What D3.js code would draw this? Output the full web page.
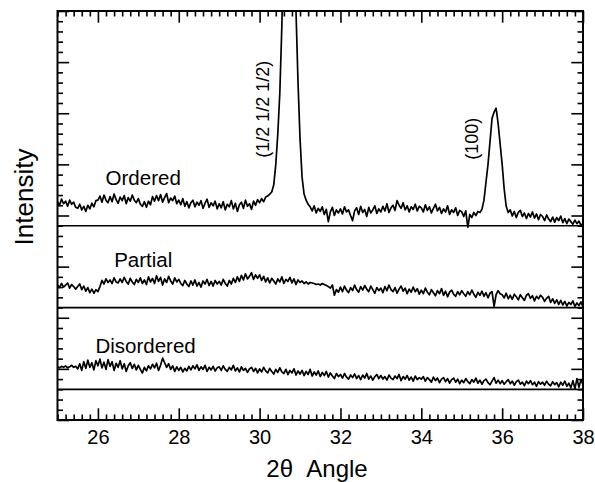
<!DOCTYPE html>
<html>
<head>
<meta charset="utf-8">
<script src="https://cdn.jsdelivr.net/npm/d3@7"></script>
<style>
  html, body { margin: 0; padding: 0; background: #fff; }
  svg { display: block; }
  text { font-family: "Liberation Sans", Arial, Helvetica, sans-serif; fill: #000; }
</style>
</head>
<body>
<svg id="chart" width="595" height="482"></svg>
<script>
// ---------------- DATA ----------------
const xStart = 25;
const xStep = 0.05;
const xTickLabels = [26, 28, 30, 32, 34, 36, 38];
const seriesNames = ["Ordered", "Partial", "Disordered"];
const seriesOffsets = [3.8, 2.2, 0.6];
const peakLabels = ["(1/2 1/2 1/2)", "(100)"];
const peakLabelX = [30.235, 35.41];
const peakLabelY = [6.08, 5.5];

const orderedValues = [
  0.47,0.40,0.52,0.43,0.48,0.38,0.50,0.42,0.46,0.36, 0.34,0.42,0.31,0.38,0.28,0.40,0.33,0.44,0.37,0.49,
  0.50,0.58,0.46,0.60,0.50,0.45,0.57,0.47,0.62,0.51, 0.44,0.56,0.49,0.59,0.43,0.55,0.48,0.60,0.50,0.45,
  0.53,0.42,0.38,0.47,0.36,0.48,0.41,0.57,0.48,0.59, 0.49,0.61,0.46,0.55,0.63,0.45,0.54,0.49,0.58,0.43,
  0.50,0.41,0.53,0.38,0.47,0.35,0.45,0.50,0.37,0.46, 0.40,0.49,0.34,0.44,0.52,0.36,0.45,0.39,0.48,0.33,
  0.43,0.35,0.47,0.31,0.42,0.37,0.49,0.33,0.44,0.28, 0.41,0.46,0.34,0.50,0.38,0.43,0.32,0.48,0.40,0.51,
  0.45,0.53,0.47,0.56,0.58,0.62,
  0.66,0.80,1.20,1.80,2.60,3.90,5.80,8.00,9.50,9.50,8.00,6.00,4.20,2.80,1.70,0.95,0.62,0.50,0.42,
  0.37,0.29,0.39,0.25,0.34,0.28,0.37,0.22,0.32,0.08, 0.27,0.36,0.20,0.31,0.25,
  0.33,0.23,0.37,0.27,0.31,0.20,0.10,0.29,0.35,0.22, 0.38,0.26,0.32,0.18,0.36,0.25,0.31,0.39,0.24,0.33,
  0.27,0.38,0.29,0.43,0.26,0.35,0.40,0.30,0.49,0.40, 0.34,0.45,0.31,0.39,0.27,0.37,0.32,0.42,0.29,0.38,
  0.35,0.27,0.41,0.30,0.37,0.25,0.34,0.42,0.29,0.36, 0.24,0.33,0.27,0.39,0.22,0.31,0.26,0.35,0.20,0.30,
  0.27,0.18,0.29,-0.03,0.22,0.16,0.26,0.20,0.28,
  0.26,0.32,0.50,0.85,1.20,1.65,2.10,2.22,2.30,2.00,1.60,1.20,0.72,0.38,0.26,
  0.31,0.19,0.28,0.16,0.26,0.30,0.18,0.25,0.14,0.24, 0.17,0.27,0.15,0.23,0.12,0.22,
  0.18,0.10,0.21,0.13,0.08,0.17,0.07,0.16,0.10,0.19, 0.06,0.14,0.04,0.13,0.08,0.03,0.11,0.04,0.09,0.01,0.04
];

const partialValues = [
  0.44,0.39,0.47,0.40,0.44,0.48,0.38,0.45,0.41,0.36, 0.41,0.46,0.35,0.42,0.32,0.39,0.29,0.36,0.28,0.35,
  0.31,0.41,0.53,0.46,0.56,0.49,0.54,0.47,0.58,0.50, 0.48,0.56,0.49,0.59,0.51,0.46,0.57,0.50,0.45,0.55,
  0.49,0.58,0.47,0.54,0.45,0.60,0.50,0.57,0.47,0.62, 0.51,0.59,0.44,0.56,0.49,0.61,0.52,0.46,0.58,0.50,
  0.55,0.47,0.43,0.53,0.46,0.41,0.52,0.44,0.54,0.42, 0.49,0.40,0.52,0.46,0.55,0.43,0.51,0.42,0.53,0.46,
  0.51,0.44,0.55,0.47,0.42,0.53,0.46,0.57,0.49,0.60, 0.51,0.63,0.54,0.66,0.56,0.61,0.68,0.55,0.64,0.57,
  0.64,0.53,0.61,0.50,0.58,0.48,0.57,0.52,0.46,0.56, 0.50,0.60,0.47,0.55,0.51,0.59,0.48,0.56,0.45,0.54,
  0.49,0.52,0.47,0.50,0.46,0.49,0.48,0.47,0.45,0.46, 0.44,0.47,0.45,0.43,0.41,0.38,0.44,0.24,0.35,0.30,
  0.40,0.31,0.42,0.34,0.29,0.39,0.33,0.44,0.35,0.30, 0.41,0.34,0.43,0.36,0.31,0.42,0.35,0.28,0.39,0.33,
  0.38,0.29,0.41,0.33,0.44,0.35,0.31,0.39,0.28,0.36, 0.42,0.32,0.38,0.27,0.36,0.30,0.40,0.31,0.37,0.26,
  0.34,0.27,0.38,0.30,0.25,0.35,0.29,0.23,0.33,0.27, 0.37,0.24,0.32,0.21,0.30,0.34,0.26,0.22,0.31,0.25,
  0.33,0.27,0.22,0.31,0.25,0.34,0.26,0.20,0.30,0.24, 0.32,0.22,0.29,0.19,0.28,0.31,0.02,0.25,0.33,0.27,
  0.25,0.19,0.28,0.17,0.24,0.16,0.26,0.21,0.15,0.25, 0.19,0.14,0.24,0.27,0.18,0.23,0.13,0.22,0.17,0.24,
  0.20,0.12,0.18,0.22,0.10,0.17,0.08,0.15,0.06,0.14, 0.05,0.12,0.03,0.10,0.06,0.13,0.02,0.09,0.04,0.11,0.01
];

const disorderedValues = [
  0.44,0.42,0.45,0.43,0.46,0.42,0.44,0.47,0.43,0.45, 0.40,0.50,0.37,0.54,0.41,0.57,0.43,0.52,0.38,0.56,
  0.46,0.59,0.42,0.53,0.39,0.58,0.45,0.54,0.37,0.51, 0.43,0.56,0.40,0.50,0.35,0.46,0.52,0.41,0.49,0.38,
  0.47,0.39,0.32,0.43,0.36,0.46,0.40,0.49,0.42,0.51, 0.37,0.47,0.61,0.52,0.43,0.50,0.39,0.46,0.35,0.44,
  0.37,0.43,0.34,0.41,0.36,0.45,0.38,0.46,0.40,0.48, 0.37,0.44,0.39,0.47,0.35,0.43,0.38,0.45,0.36,0.42,
  0.44,0.37,0.46,0.39,0.35,0.43,0.38,0.47,0.36,0.42, 0.34,0.44,0.37,0.41,0.33,0.40,0.43,0.35,0.41,0.32,
  0.40,0.34,0.43,0.36,0.32,0.41,0.35,0.30,0.39,0.33, 0.42,0.34,0.31,0.39,0.29,0.37,0.32,0.40,0.28,0.36,
  0.30,0.37,0.27,0.35,0.29,0.39,0.26,0.34,0.28,0.36, 0.25,0.33,0.27,0.35,0.24,0.32,0.26,0.21,0.31,0.25,
  0.29,0.22,0.31,0.24,0.20,0.28,0.23,0.30,0.21,0.27, 0.19,0.28,0.22,0.31,0.20,0.26,0.18,0.25,0.29,0.21,
  0.27,0.20,0.25,0.18,0.28,0.22,0.19,0.26,0.21,0.29, 0.17,0.25,0.20,0.27,0.18,0.24,0.16,0.26,0.19,0.23,
  0.20,0.25,0.16,0.23,0.19,0.14,0.24,0.17,0.22,0.13, 0.20,0.23,0.15,0.21,0.12,0.19,0.22,0.14,0.20,0.11,
  0.18,0.13,0.21,0.15,0.11,0.19,0.14,0.22,0.12,0.18, 0.10,0.17,0.20,0.13,0.09,0.16,0.23,0.12,0.18,0.11,
  0.17,0.10,0.15,0.19,0.11,0.16,0.08,0.15,0.18,0.10, 0.14,0.07,0.16,0.11,0.17,0.09,0.14,0.06,0.15,0.10,
  0.14,0.08,0.16,0.10,0.07,0.15,0.09,0.13,0.05,0.14, 0.08,0.16,0.06,0.12,0.03,0.17,0.01,0.21,0.04,0.19,0.09
];

const seriesValues = [orderedValues, partialValues, disorderedValues];

// ---------------- CHART ----------------
const svg = d3.select("#chart");
const L = 57.5, R = 583, T = 11, B = 420;
const x = d3.scaleLinear().domain([25, 38]).range([L, R]);
const y = d3.scaleLinear().domain([0, 8]).range([B, T]);

const majorX = xTickLabels;
const minorX = d3.range(0, 66).map(i => 25 + i * 0.2).filter(v => Math.abs(v / 2 - Math.round(v / 2)) > 0.01);
const majorY = d3.range(0, 9);
const minorY = d3.range(0, 41).map(i => i * 0.2).filter(v => Math.abs(v - Math.round(v)) > 0.01);

function styleAxis(g) {
  g.select(".domain").remove();
  g.selectAll("line").attr("stroke", "#000").attr("stroke-width", 1.6);
}

svg.append("defs").append("clipPath").attr("id", "plotclip")
  .append("rect").attr("x", L).attr("y", T).attr("width", R - L).attr("height", B - T);

// bottom axis
svg.append("g").attr("transform", `translate(0,${B})`)
  .call(d3.axisBottom(x).tickValues(majorX).tickSizeInner(-11.7).tickSizeOuter(0).tickPadding(10).tickFormat(d3.format("d")))
  .call(styleAxis)
  .call(g => g.selectAll("text").attr("font-size", 20).attr("font-family", "Liberation Sans, Arial, sans-serif").attr("fill", "#000"));
svg.append("g").attr("transform", `translate(0,${B})`)
  .call(d3.axisBottom(x).tickValues(minorX).tickSizeInner(-5.5).tickSizeOuter(0).tickFormat(""))
  .call(styleAxis);
// top axis
svg.append("g").attr("transform", `translate(0,${T})`)
  .call(d3.axisTop(x).tickValues(majorX).tickSizeInner(-11.7).tickSizeOuter(0).tickFormat(""))
  .call(styleAxis);
svg.append("g").attr("transform", `translate(0,${T})`)
  .call(d3.axisTop(x).tickValues(minorX).tickSizeInner(-5.5).tickSizeOuter(0).tickFormat(""))
  .call(styleAxis);
// left axis
svg.append("g").attr("transform", `translate(${L},0)`)
  .call(d3.axisLeft(y).tickValues(majorY).tickSizeInner(-11.7).tickSizeOuter(0).tickFormat(""))
  .call(styleAxis);
svg.append("g").attr("transform", `translate(${L},0)`)
  .call(d3.axisLeft(y).tickValues(minorY).tickSizeInner(-5.5).tickSizeOuter(0).tickFormat(""))
  .call(styleAxis);
// right axis
svg.append("g").attr("transform", `translate(${R},0)`)
  .call(d3.axisRight(y).tickValues(majorY).tickSizeInner(-11.7).tickSizeOuter(0).tickFormat(""))
  .call(styleAxis);
svg.append("g").attr("transform", `translate(${R},0)`)
  .call(d3.axisRight(y).tickValues(minorY).tickSizeInner(-5.5).tickSizeOuter(0).tickFormat(""))
  .call(styleAxis);

// baselines
svg.append("g").selectAll("line").data(seriesOffsets).join("line")
  .attr("x1", x(25)).attr("x2", x(38))
  .attr("y1", d => y(d)).attr("y2", d => y(d))
  .attr("stroke", "#000").attr("stroke-width", 1.7);

// traces
const plot = svg.append("g").attr("clip-path", "url(#plotclip)");
seriesValues.forEach((vals, si) => {
  const off = seriesOffsets[si];
  const line = d3.line()
    .x((d, i) => x(xStart + i * xStep))
    .y(d => y(off + d));
  plot.append("path").datum(vals)
    .attr("d", line)
    .attr("fill", "none")
    .attr("stroke", "#000")
    .attr("stroke-width", 1.7)
    .attr("stroke-linejoin", "round");
});

// frame
svg.append("rect").attr("x", L).attr("y", T).attr("width", R - L).attr("height", B - T)
  .attr("fill", "none").attr("stroke", "#000").attr("stroke-width", 2);

// series labels
const labelX = [27.12, 27.12, 27.18];
const labelDy = [0.8, 0.79, 0.71];
svg.append("g").selectAll("text").data(seriesNames).join("text")
  .attr("x", (d, i) => x(labelX[i]))
  .attr("y", (d, i) => y(seriesOffsets[i] + labelDy[i]))
  .attr("text-anchor", "middle")
  .attr("font-size", 20.5)
  .text(d => d);

// peak labels
svg.append("g").selectAll("text").data(peakLabels).join("text")
  .attr("transform", (d, i) => `translate(${x(peakLabelX[i])},${y(peakLabelY[i])}) rotate(-90)`)
  .attr("text-anchor", "middle")
  .attr("font-size", 18)
  .text(d => d);

// axis titles
svg.append("text")
  .attr("transform", `translate(33,197) rotate(-90)`)
  .attr("text-anchor", "middle")
  .attr("font-size", 26)
  .text("Intensity");
svg.append("text")
  .attr("x", 317).attr("y", 477)
  .attr("text-anchor", "middle")
  .attr("font-size", 24)
  .style("white-space", "pre")
  .text("2θ  Angle");
</script>
</body>
</html>
